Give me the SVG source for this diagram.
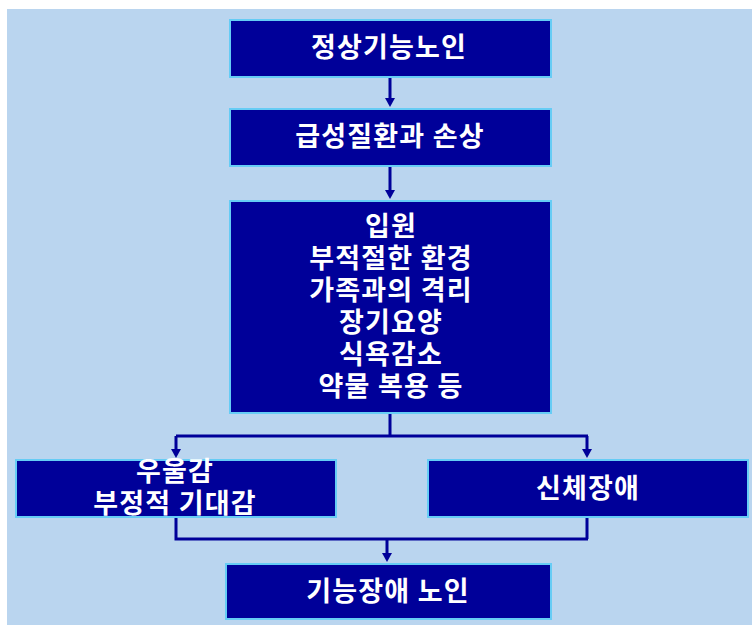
<svg xmlns="http://www.w3.org/2000/svg" width="752" height="626" viewBox="0 0 752 626">
<style>
.box{fill:#000099;stroke:#66CCF5;stroke-width:2}
.t{fill:#fff;font-family:"Noto Sans CJK KR","Noto Sans",sans-serif;font-weight:bold;font-size:27px;letter-spacing:1.2px;text-anchor:middle}
.c{fill:none;stroke:#000099;stroke-width:3}
.a{fill:#000099}
</style>
<rect x="7" y="9" width="745" height="616" fill="#BAD5EF"/>
<g id="connectors">
<path class="c" d="M390,77 V98"/>
<path class="a" d="M385,98 L395,98 L390,107 Z"/>
<path class="c" d="M390,166 V190"/>
<path class="a" d="M385,190 L395,190 L390,199 Z"/>
<path class="c" d="M390,413 V436 M176,436 H588 M176,436 V449 M587,436 V449"/>
<path class="a" d="M171,449 L181,449 L176,458 Z"/>
<path class="a" d="M582,449 L592,449 L587,458 Z"/>
<path class="c" d="M176,517 V539 H588 M587,517 V539 M387,539 V553"/>
<path class="a" d="M382,553 L392,553 L387,562 Z"/>
</g>
<g id="n1"><rect class="box" x="230" y="20" width="321" height="57"/><text class="t" x="389" y="57">정상기능노인</text></g>
<g id="n2"><rect class="box" x="230" y="109" width="321" height="57"/><text class="t" x="390" y="146">급성질환과 손상</text></g>
<g id="n3"><rect class="box" x="230" y="201" width="321" height="212"/>
<text class="t" x="391" y="236">입원</text>
<text class="t" x="391" y="268">부적절한 환경</text>
<text class="t" x="391" y="300">가족과의 격리</text>
<text class="t" x="391" y="332">장기요양</text>
<text class="t" x="391" y="364">식욕감소</text>
<text class="t" x="391" y="396">약물 복용 등</text>
</g>
<g id="n4"><rect class="box" x="16" y="460" width="320" height="57"/>
<text class="t" x="175" y="481">우울감</text>
<text class="t" x="175" y="513">부정적 기대감</text></g>
<g id="n5"><rect class="box" x="428" y="460" width="320" height="57"/><text class="t" x="588" y="498">신체장애</text></g>
<g id="n6"><rect class="box" x="226" y="564" width="325" height="55"/><text class="t" x="388" y="601">기능장애 노인</text></g>
</svg>
